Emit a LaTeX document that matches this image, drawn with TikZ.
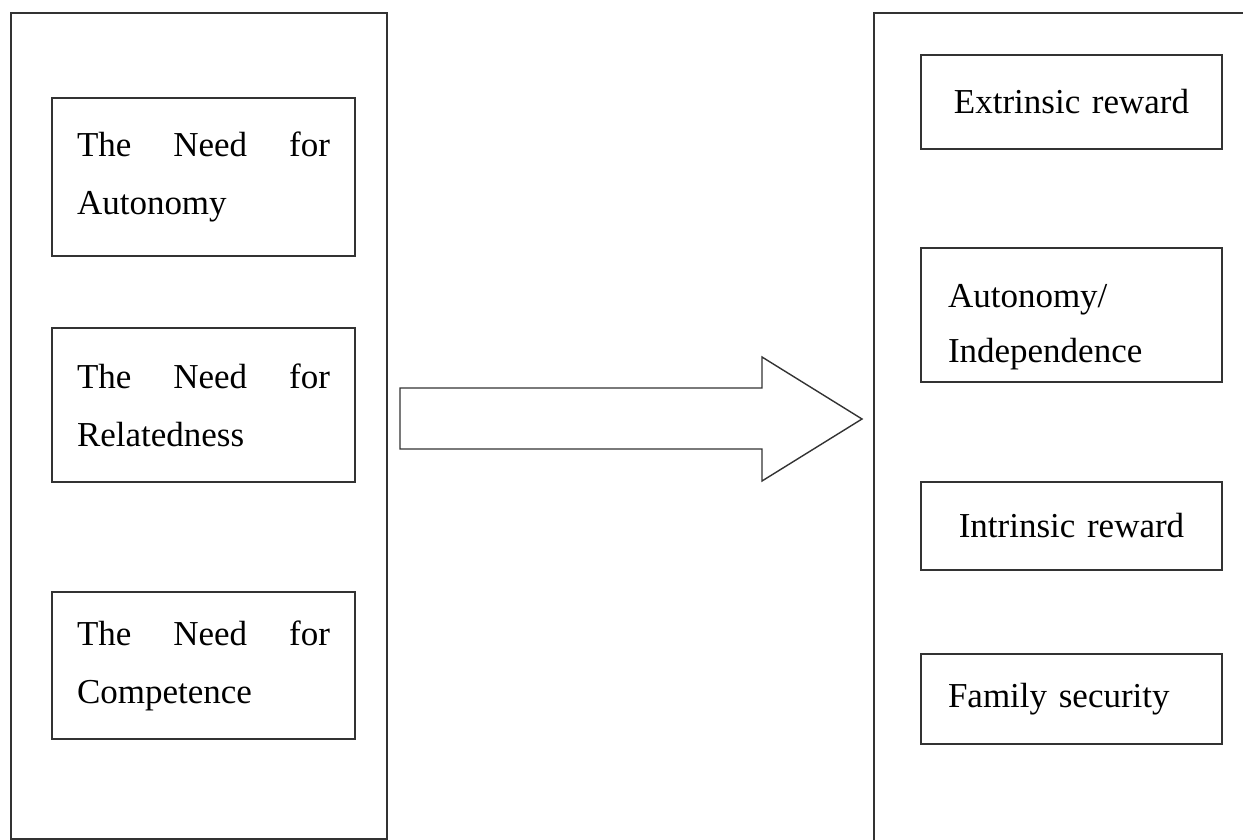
\documentclass[tikz,border=0pt]{standalone}
\usepackage{fontspec}
\setmainfont{Liberation Serif}
\usetikzlibrary{positioning}

\begin{document}
\begin{tikzpicture}[x=1pt,y=-1pt,on grid,
    outer/.style={draw=black!80,line width=1.7pt,inner sep=0pt,anchor=north west},
    need/.style={draw=black!80,line width=1.6pt,minimum height=#1,inner xsep=25pt,
        text width=253pt,align=left,font={\fontsize{35}{58}\selectfont}},
    goal/.style={draw=black!80,line width=1.6pt,minimum height=#1,inner xsep=27pt,
        text width=247pt,align=left,font={\fontsize{35}{55}\selectfont}}]
    \useasboundingbox (0,0) rectangle (1243,840);

    \node[outer,minimum width=376pt,minimum height=826pt] (lhs) at (10,12) {};
    \node[outer,minimum width=400pt,minimum height=850pt] (rhs) at (873,12) {};

    \node[need=158pt] (auto) at (203.5,177) {The\hfill Need\hfill for\\Autonomy};
    \node[need=154pt] (rel) [below=228pt of auto] {The\hfill Need\hfill for\\Relatedness};
    \node[need=147pt] (comp) [below=260.5pt of rel] {The\hfill Need\hfill for\\Competence};

    \node[goal=94pt,align=center] (extr) at (1071.5,102) {Extrinsic reward};
    \node[goal=134pt] (indep) [below=213pt of extr] {\rule{0pt}{48pt}Autonomy/\\Independence};
    \node[goal=88pt,align=center] (intr) [below=211pt of indep] {Intrinsic reward};
    \node[goal=90pt] (fam) [below=173pt of intr] {Family security};

    % big arrow
    \draw[draw=black!80,line width=1.4pt] (400,388) -- (762,388) -- (762,357) -- (862,419)
        -- (762,481) -- (762,449) -- (400,449) -- cycle;
\end{tikzpicture}
\end{document}
